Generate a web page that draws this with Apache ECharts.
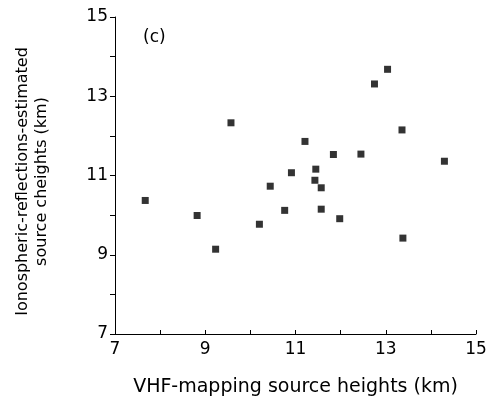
<!DOCTYPE html>
<html>
<head>
<meta charset="utf-8">
<script src="https://cdn.jsdelivr.net/npm/echarts@6/dist/echarts.min.js"></script>
<style>
  html, body { margin: 0; padding: 0; background: #fff; }
  #chart { width: 490px; height: 402px; }
</style>
</head>
<body>
<div id="chart"></div>
<script>
// VHF-mapping heights (x) vs ionospheric-reflection heights (y), km
var vhfHeights = [7.67, 8.82, 9.23, 9.57, 10.2, 10.44, 10.76, 10.91, 11.21, 11.45, 11.43,
  11.57, 11.57, 11.84, 11.98, 12.45, 12.75, 13.04, 13.36, 13.38, 14.3];
var ionoHeights = [10.37, 9.99, 9.14, 12.33, 9.77, 10.73, 10.12, 11.07, 11.86, 11.16, 10.88,
  10.69, 10.15, 11.53, 9.91, 11.54, 13.31, 13.68, 12.15, 9.42, 11.36];

var points = vhfHeights.map(function (x, i) { return [x, ionoHeights[i]]; });

var dom = document.getElementById('chart');
var myChart = echarts.init(dom, null, { renderer: 'canvas' });

var font = 'DejaVu Sans, sans-serif';

var option = {
  animation: false,
  backgroundColor: '#fff',
  grid: { left: 115, right: 14, top: 17, bottom: 68 },
  graphic: [{
    type: 'text',
    left: 143,
    top: 29,
    style: { text: '(c)', font: '17px ' + font, fill: '#000' }
  }],
  xAxis: {
    type: 'value',
    min: 7, max: 15, interval: 2,
    name: 'VHF-mapping source heights (km)',
    nameLocation: 'middle',
    nameGap: 44,
    nameTextStyle: { fontFamily: font, fontSize: 19, color: '#000' },
    axisLine: { lineStyle: { color: '#000', width: 1 } },
    axisTick: { inside: true, length: 4, lineStyle: { color: '#000' } },
    minorTick: { show: true, splitNumber: 2, length: 4, lineStyle: { color: '#000' } },
    axisLabel: { fontFamily: font, fontSize: 17, color: '#000', margin: 7 },
    splitLine: { show: false }
  },
  yAxis: {
    type: 'value',
    min: 7, max: 15, interval: 2,
    name: 'Ionospheric-reflections-estimated\nsource cheights (km)',
    nameLocation: 'middle',
    nameGap: 64,
    nameTextStyle: { fontFamily: font, fontSize: 16, color: '#000', lineHeight: 19, padding: [0, 12, 0, 0] },
    axisLine: { show: true, lineStyle: { color: '#000', width: 1 } },
    axisTick: { show: true, length: 5, lineStyle: { color: '#000' } },
    minorTick: { show: true, splitNumber: 2, length: 5, lineStyle: { color: '#000' } },
    axisLabel: { fontFamily: font, fontSize: 17, color: '#000', margin: 7 },
    splitLine: { show: false }
  },
  series: [{
    type: 'scatter',
    symbol: 'rect',
    symbolSize: 7,
    itemStyle: { color: '#000' },
    data: points
  }]
};

myChart.setOption(option);
window.addEventListener('resize', myChart.resize);
</script>
</body>
</html>
